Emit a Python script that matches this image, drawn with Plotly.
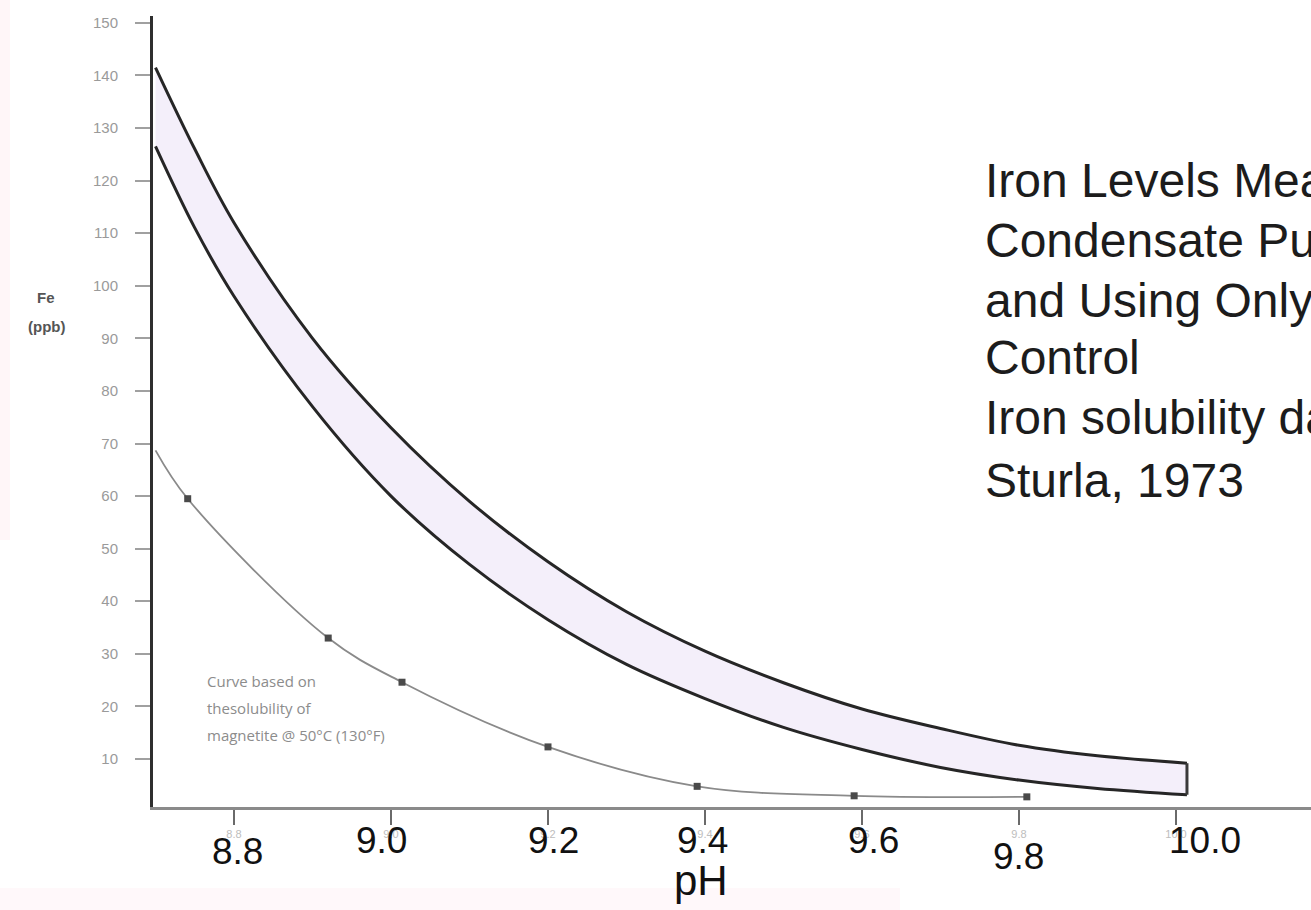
import plotly.graph_objects as go

# ---------------- data ----------------
ph_band = [8.70, 8.75, 8.80, 8.90, 9.00, 9.10, 9.20, 9.30, 9.40, 9.50, 9.60, 9.70, 9.80, 9.90, 10.014]
fe_upper = [141.5, 126.0, 112.0, 90.0, 73.0, 59.0, 47.5, 38.0, 30.5, 24.5, 19.5, 15.8, 12.6, 10.6, 9.2]
fe_lower = [126.5, 111.0, 98.0, 77.0, 60.0, 47.0, 36.5, 28.0, 21.5, 16.0, 11.8, 8.4, 6.0, 4.4, 3.2]

ph_magnetite = [8.70, 8.741, 8.92, 9.014, 9.20, 9.39, 9.59, 9.81]
fe_magnetite = [68.7, 59.5, 33.0, 24.6, 12.3, 4.8, 3.0, 2.8]

x_tick_values = [8.8, 9.0, 9.2, 9.4, 9.6, 9.8, 10.0]
x_tick_labels = ["8.8", "9.0", "9.2", "9.4", "9.6", "9.8", "10.0"]
y_tick_values = [10, 20, 30, 40, 50, 60, 70, 80, 90, 100, 110, 120, 130, 140, 150]
y_tick_labels = [str(v) for v in y_tick_values]

title_lines = ["Iron Levels Measured in", "Condensate Pump", "and Using Only pH",
               "Control", "Iron solubility data", "Sturla, 1973"]
note_lines = ["Curve based on", "thesolubility of", "magnetite @ 50°C (130°F)"]

# ---------------- layout geometry ----------------
W, H = 1311, 910
ML, MR, MT, MB = 153, 0, 16, 103
PW, PH = W - ML - MR, H - MT - MB


def px(xp):
    return (xp - ML) / PW


def py(yp):
    return (H - MB - yp) / PH


FONT = "Liberation Sans, Arial, sans-serif"

fig = go.Figure()

# band: lower edge, then upper edge filled down to it
fig.add_trace(go.Scatter(x=ph_band, y=fe_lower, mode="lines",
                         line=dict(color="#262626", width=3, shape="spline"),
                         hoverinfo="skip", showlegend=False))
fig.add_trace(go.Scatter(x=ph_band, y=fe_upper, mode="lines", fill="tonexty",
                         fillcolor="#f4effa",
                         line=dict(color="#262626", width=3, shape="spline"),
                         hoverinfo="skip", showlegend=False))
# closing edge of the band at the right end
fig.add_trace(go.Scatter(x=[ph_band[-1], ph_band[-1]], y=[fe_lower[-1], fe_upper[-1]],
                         mode="lines", line=dict(color="#3a3a3a", width=3),
                         hoverinfo="skip", showlegend=False))

# magnetite solubility curve
fig.add_trace(go.Scatter(x=ph_magnetite, y=fe_magnetite, mode="lines",
                         line=dict(color="#8a8a8a", width=1.8, shape="spline"),
                         hoverinfo="skip", showlegend=False))
fig.add_trace(go.Scatter(x=ph_magnetite[1:], y=fe_magnetite[1:], mode="markers",
                         marker=dict(symbol="square", size=7, color="#4a4a4a"),
                         hoverinfo="skip", showlegend=False))

annotations = []

# large overlay tick labels (placed as in the slide)
label_pos = [(237, 852), (381, 840), (553, 840), (702, 840), (873, 840), (1018, 856), (1205, 841)]
for t, (xp, yp) in zip(x_tick_labels, label_pos):
    annotations.append(dict(text=t, xref="paper", yref="paper", x=px(xp), y=py(yp),
                            xanchor="center", yanchor="middle", showarrow=False,
                            font=dict(family=FONT, size=37, color="#111111")))
annotations.append(dict(text="pH", xref="paper", yref="paper", x=px(701), y=py(880),
                        xanchor="center", yanchor="middle", showarrow=False,
                        font=dict(family=FONT, size=42, color="#111111")))

# y-axis title
annotations.append(dict(text="<b>Fe</b>", xref="paper", yref="paper", x=px(46), y=py(297),
                        xanchor="center", yanchor="middle", showarrow=False,
                        font=dict(family=FONT, size=15, color="#555555")))
annotations.append(dict(text="<b>(ppb)</b>", xref="paper", yref="paper", x=px(46), y=py(326),
                        xanchor="center", yanchor="middle", showarrow=False,
                        font=dict(family=FONT, size=15, color="#555555")))

# right-hand text block (runs off the right edge as in the slide)
title_centers = [181, 240, 300, 358, 418, 480]
for t, yp in zip(title_lines, title_centers):
    annotations.append(dict(text=t, xref="paper", yref="paper", x=px(983), y=py(yp),
                            xanchor="left", yanchor="middle", showarrow=False,
                            font=dict(family=FONT, size=48, color="#1c1c1c")))

# magnetite note
note_centers = [681, 708, 735]
for t, yp in zip(note_lines, note_centers):
    annotations.append(dict(text=t, xref="paper", yref="paper", x=px(205), y=py(yp),
                            xanchor="left", yanchor="middle", showarrow=False,
                            font=dict(family="Open Sans, sans-serif", size=15, color="#8c8c8c")))

# faint pink scan tint along the left and bottom edges
shapes = [
    dict(type="rect", xref="paper", yref="paper", x0=px(0), x1=px(10), y0=py(540), y1=py(0),
         fillcolor="#fff6f8", line=dict(width=0), layer="below"),
    dict(type="rect", xref="paper", yref="paper", x0=px(0), x1=px(900), y0=py(910), y1=py(888),
         fillcolor="#fff8fa", line=dict(width=0), layer="below"),
]

fig.update_layout(
    width=W, height=H,
    margin=dict(l=ML, r=MR, t=MT, b=MB, pad=0),
    paper_bgcolor="white", plot_bgcolor="white",
    showlegend=False,
    annotations=annotations,
    shapes=shapes,
    xaxis=dict(range=[8.6968, 10.172], showgrid=False, zeroline=False,
               showline=True, linecolor="#8a8a8a", linewidth=3,
               ticks="outside", ticklen=15, tickwidth=2, tickcolor="#6a6a6a",
               tickvals=x_tick_values, ticktext=x_tick_labels,
               tickfont=dict(family=FONT, size=11, color="#bdbdbd")),
    yaxis=dict(range=[0.87, 151.3], showgrid=False, zeroline=False,
               showline=True, linecolor="#2e2e2e", linewidth=3,
               ticks="outside", ticklen=15, tickwidth=2, tickcolor="#a0a0a0",
               tickvals=y_tick_values, ticktext=y_tick_labels,
               ticklabelstandoff=14,
               tickfont=dict(family=FONT, size=15, color="#9a9a9a")),
)

fig.write_html("out.html", post_script="document.body.style.margin='0';")
